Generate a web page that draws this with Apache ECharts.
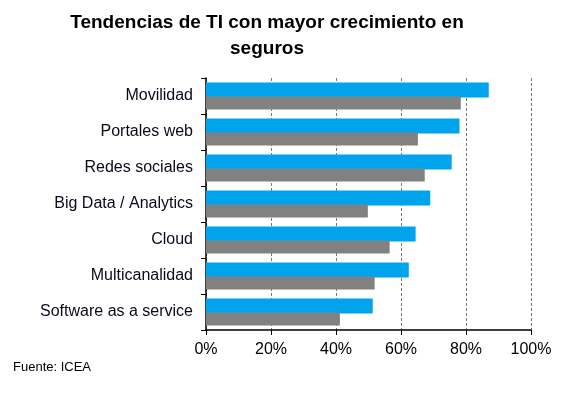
<!DOCTYPE html>
<html><head><meta charset="utf-8">
<script src="https://cdn.jsdelivr.net/npm/echarts@6/dist/echarts.min.js"></script>
<style>html,body{margin:0;padding:0;background:#fff}#c{width:576px;height:399px}</style>
</head><body><div id="c"></div>
<script>
const categories = ["Movilidad","Portales web","Redes sociales","Big Data / Analytics","Cloud","Multicanalidad","Software as a service"];
const seriesBlue = [87, 78, 75.6, 69, 64.5, 62.4, 51.3];
const seriesGrey = [78.4, 65.2, 67.3, 49.8, 56.5, 51.9, 41.2];
const xTicks = [0, 20, 40, 60, 80, 100];

const chart = echarts.init(document.getElementById('c'));
chart.setOption({
  animation: false,
  title: [{
    text: 'Tendencias de TI con mayor crecimiento en\nseguros',
    left: 262, top: 5, textAlign: 'center',
    textStyle: {fontFamily: 'Liberation Sans', fontWeight: 'bold', fontSize: 19, color: '#000', lineHeight: 26}
  }, {
    text: 'Fuente: ICEA', left: 8, top: 356,
    textStyle: {fontFamily: 'Liberation Sans', fontWeight: 'normal', fontSize: 13, color: '#000'}
  }],
  grid: {left: 206, right: 45, top: 78, bottom: 69, containLabel: false},
  xAxis: {
    type: 'value', min: 0, max: 100, interval: 20,
    axisLine: {show: true, lineStyle: {color: '#000', width: 1.5}},
    axisTick: {show: true, length: 5, lineStyle: {color: '#000'}},
    axisLabel: {formatter: v => xTicks.includes(v) ? v + '%' : '', fontFamily: 'Liberation Sans', fontSize: 16, color: '#000', margin: 12},
    splitLine: {show: true, lineStyle: {color: '#777', type: [3, 2], width: 1}}
  },
  yAxis: {
    type: 'category', data: categories, inverse: true,
    axisLine: {show: true, lineStyle: {color: '#000', width: 1.5}},
    axisTick: {show: true, length: 5, lineStyle: {color: '#000'}},
    axisLabel: {fontFamily: 'Liberation Sans', fontSize: 16, color: '#0a0a1a', margin: 13}
  },
  series: [
    {type: 'bar', data: seriesBlue, barWidth: 15, barGap: '-7%', itemStyle: {color: '#00A4EC'}},
    {type: 'bar', data: seriesGrey, barWidth: 13, itemStyle: {color: '#818181'}}
  ]
});
</script></body></html>
